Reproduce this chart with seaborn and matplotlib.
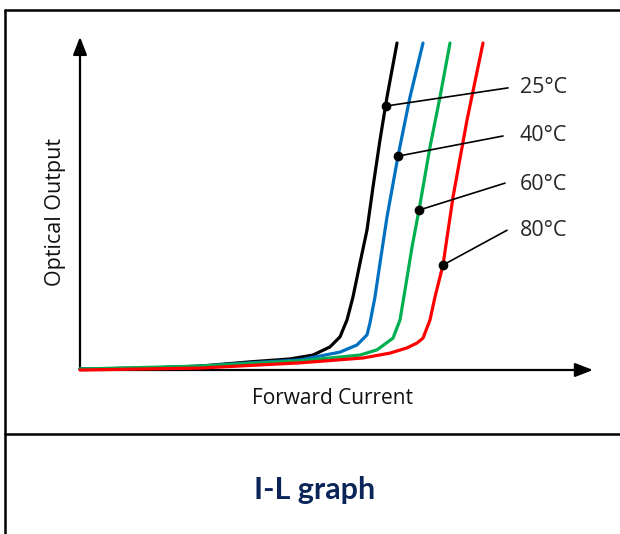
import pandas as pd
import numpy as np
import matplotlib.pyplot as plt
import seaborn as sns
from matplotlib.lines import Line2D

sns.set_theme(style="white")
plt.rcParams['font.family'] = ['Open Sans', 'DejaVu Sans']

temperaturas = ["25°C", "40°C", "60°C", "80°C"]
cores = ["#000000", "#0070C0", "#00B050", "#FF0000"]

correnteCurvas = {
    "25°C": [0, 14, 24, 34, 42, 46.6, 50, 52, 53.4, 54.6, 56, 57.4, 58.6, 60, 61.4, 63.4],
    "40°C": [0, 14, 24, 34, 44, 52, 55.4, 57.4, 58, 59, 60, 61.4, 63.6, 66, 68.6],
    "60°C": [0, 24, 44, 56, 59.4, 62.6, 64, 65, 66.4, 67.8, 70, 72, 74],
    "80°C": [0, 24, 44, 56.6, 62, 65.4, 67.4, 68.6, 70, 71, 72.6, 74.6, 77.4, 80.6],
}
potenciaCurvas = {
    "25°C": [0.3, 0.6, 1.2, 2.5, 3.4, 4.6, 7.1, 10.2, 15.4, 22.5, 32.9, 43.1, 56.3, 70.8, 84, 100.6],
    "40°C": [0.3, 0.6, 1.2, 2.2, 3.1, 5.5, 7.7, 10.8, 14.5, 22.5, 32.9, 47.1, 65.8, 84, 100.6],
    "60°C": [0.3, 1.2, 2.8, 4.6, 6.2, 9.8, 15.4, 24.6, 37.8, 49.2, 68.6, 84, 100.6],
    "80°C": [0.0, 0.6, 2.2, 3.7, 5.2, 6.8, 8.3, 9.8, 15.4, 22.5, 32.3, 53.2, 76.9, 100.6],
}

# pontos marcados e fim das linhas de chamada
marcadorX = [61.1, 63.6, 67.8, 72.6]
marcadorY = [81.2, 65.8, 49.2, 32.3]
chamadaX = [85.6, 84.6, 85, 85.4]
chamadaY = [86.8, 72.0, 57.5, 43.0]
rotuloX = 88
rotuloY = [86.8, 72.3, 57.2, 42.8]

registros = []
for t in temperaturas:
    for c, p in zip(correnteCurvas[t], potenciaCurvas[t]):
        registros.append({'temperatura': t, 'corrente': c, 'potencia': p})
dfCurvas = pd.DataFrame(registros)

fig = plt.figure(figsize=(6.2, 5.34), dpi=100)
W, H = 620, 534
# origem em (80, 370) px, x: 5 px/unidade, y: 3.25 px/unidade
ax = fig.add_axes([80 / W, (H - 370) / H, 500 / W, 325 / H])
ax.set_xlim(0, 100)
ax.set_ylim(0, 100)

sns.lineplot(data=dfCurvas, x='corrente', y='potencia', hue='temperatura',
             palette=cores, hue_order=temperaturas, linewidth=2.3,
             sort=False, estimator=None, legend=False, ax=ax)
for l in ax.get_lines():
    l.set_clip_on(False)
    l.set_solid_joinstyle('round')

for mx, my, cx, cy, ry, t in zip(marcadorX, marcadorY, chamadaX, chamadaY, rotuloY, temperaturas):
    ax.plot([mx, cx], [my, cy], color='black', linewidth=1.2, clip_on=False, zorder=5)
    ax.scatter([mx], [my], s=36, color='black', zorder=6, clip_on=False)
    ax.text(rotuloX, ry, t, fontsize=15.5, color='#262626', va='center', ha='left')

for s in ax.spines.values():
    s.set_visible(False)
ax.set_xticks([])
ax.set_yticks([])
ax.set_xlabel("")
ax.set_ylabel("")
ax.patch.set_alpha(0)

# setas dos eixos
estiloSeta = dict(arrowstyle='-|>,head_length=0.9,head_width=0.35',
                  color='black', lw=1.6, shrinkA=0, shrinkB=0)
ax.annotate('', xy=(102.6, 0), xytext=(0, 0), xycoords='data',
            arrowprops=estiloSeta, annotation_clip=False, zorder=1)
ax.annotate('', xy=(0, 102.5), xytext=(0, 0), xycoords='data',
            arrowprops=estiloSeta, annotation_clip=False, zorder=1)

fig.text(333 / W, 1 - 399 / H, "Forward Current", fontsize=15, ha='center', va='center', color='#111111')
fig.text(55 / W, 1 - 212 / H, "Optical Output", fontsize=15.5, ha='center', va='center',
         rotation=90, color='#111111')
fig.text(315 / W, 1 - 490 / H, "I-L graph", fontsize=22, fontweight='bold', ha='center',
         va='center', color='#0B2559', family=['Lato', 'DejaVu Sans'])

# moldura
def linhaPx(x0, y0, x1, y1):
    fig.add_artist(Line2D([x0 / W, x1 / W], [1 - y0 / H, 1 - y1 / H], color='black', lw=1.8))

linhaPx(5, 10, 620, 10)
linhaPx(5, 10, 5, 534)
linhaPx(5, 434, 620, 434)

fig.savefig("out.png", dpi=100)
